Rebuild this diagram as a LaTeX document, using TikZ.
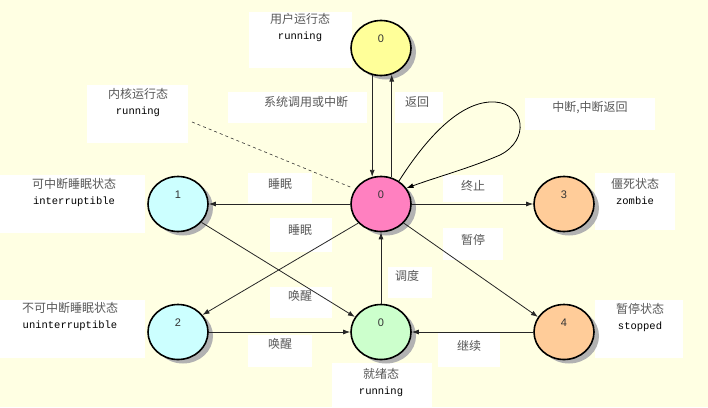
\documentclass[tikz,border=0pt]{standalone}
\usepackage{fontspec}
\setmonofont{Liberation Mono}
\newfontfamily\cjk{Noto Sans CJK SC}
\newfontfamily\digits{Liberation Sans}
\usetikzlibrary{arrows.meta, shapes.geometric, shadows}
\definecolor{paper}{RGB}{255,255,227}
\definecolor{usrcol}{RGB}{255,255,153}
\definecolor{krncol}{RGB}{255,128,192}
\definecolor{sleepcol}{RGB}{204,255,255}
\definecolor{rdycol}{RGB}{204,255,204}
\definecolor{deadcol}{RGB}{255,204,153}
\newcommand{\en}[1]{{\ttfamily\fontsize{10.5}{16}\selectfont\color{black}#1}}

\begin{document}
\begin{tikzpicture}[x=1pt, y=-1pt,
		state/.style={ellipse, draw=black, line width=1.6pt, minimum width=60pt, minimum height=55pt, inner sep=0pt,
			drop shadow={shadow xshift=5pt, shadow yshift=-4pt, fill=black!30, opacity=1},
			label={[font=\digits\fontsize{11}{13}\selectfont, text=black!80, yshift=9pt]center:#1}},
		txt/.style={font=\cjk\fontsize{12}{16}\selectfont, text=black!65, align=center, inner sep=0pt},
		link/.style={draw=black!85, line width=0.8pt, -{Latex[length=7pt,width=5pt]}}]
		\useasboundingbox (0,0) rectangle (708,407);
		\fill[paper] (0,0) rectangle (708,407);
		% white label boxes
		\foreach \a/\b/\c/\d in {249/12/352/68, 228/92/367/123, 395/92/443/123, 87/85/188/143,
			0/175/145/233, 248/173/312/203, 525/98/655/130, 443/175/503/202, 595/173/675/230,
			443/228/503/260, 270/218/332/252, 388/267/432/298, 270/287/332/318, 248/335/312/367,
			0/300/145/358, 332/363/432/407, 438/333/500/367, 595/300/683/358}{
			\fill[white] (\a,\b) rectangle (\c,\d);
		}
		% states
		\node[state=0, fill=usrcol] (usr) at (381,48) {};
		\node[state=0, fill=krncol] (krn) at (381,204) {};
		\node[state=1, fill=sleepcol] (intr) at (178,204) {};
		\node[state=2, fill=sleepcol] (unintr) at (178,332) {};
		\node[state=0, fill=rdycol] (rdy) at (381,332) {};
		\node[state=3, fill=deadcol] (zmb) at (564,204) {};
		\node[state=4, fill=deadcol] (stp) at (564,332) {};
		% state names
		\node[txt] (usrname) at (300,28) {用户运行态\\\en{running}};
		\node[txt] (krnname) at (138,103) {内核运行态\\\en{running}};
		\node[txt] (intrname) at (74,193) {可中断睡眠状态\\\en{interruptible}};
		\node[txt] (unintrname) at (70,317) {不可中断睡眠状态\\\en{uninterruptible}};
		\node[txt] (zmbname) at (635,191) {僵死状态\\\en{zombie}};
		\node[txt] (stpname) at (640,318) {暂停状态\\\en{stopped}};
		\node[txt] (rdyname) at (381,383) {就绪态\\\en{running}};
		% edge labels
		\node[txt] (syscall) at (306,102) {系统调用或中断};
		\node[txt] (ret) at (417,102) {返回};
		\node[txt] (irq) at (590,108) {中断,中断返回};
		\node[txt] (sleepa) at (280,184) {睡眠};
		\node[txt] (exit) at (473,186) {终止};
		\node[txt] (pause) at (473,240) {暂停};
		\node[txt] (sleepb) at (300,230) {睡眠};
		\node[txt] (sched) at (407,276) {调度};
		\node[txt] (wakea) at (300,296) {唤醒};
		\node[txt] (wakeb) at (280,344) {唤醒};
		\node[txt] (cont) at (469,346) {继续};
		% transitions
		\draw[link] (usr.-108) -- (krn.108);
		\draw[link] (krn.68) -- (usr.-68);
		\draw[link] (krn.west) -- (intr.east);
		\draw[link] (krn.east) -- (zmb.west);
		\draw[link] (krn.220) -- (unintr.35);
		\draw[link] (intr.-38) -- (rdy.150);
		\draw[link] (krn.-40) -- (stp.150);
		\draw[link] (rdy.north) -- (krn.south);
		\draw[link] (unintr.east) -- (rdy.west);
		\draw[link] (stp.west) -- (rdy.east);
		% interrupt loop
		\draw[link, draw=black] (krn.52) .. controls (425,140) and (460,100) .. (495,102)
			.. controls (525,104) and (530,140) .. (500,155) .. controls (470,168) and (440,176) .. (krn.32);
		% kernel label pointer
		\coordinate (kdash) at (192,122);
		\draw[dashed, black!80, line width=0.6pt, shorten >=5pt] (kdash) -- (krn.150);
	\end{tikzpicture}
\end{document}
